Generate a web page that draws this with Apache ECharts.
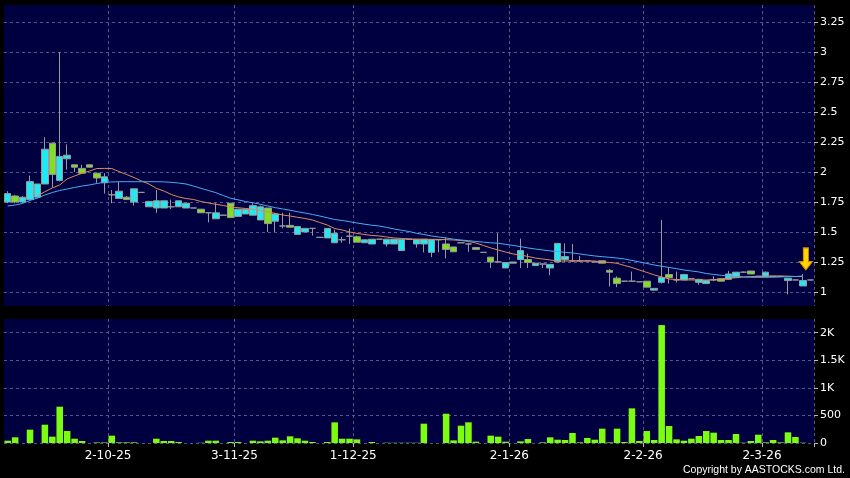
<!DOCTYPE html>
<html><head><meta charset="utf-8">
<script src="https://cdn.jsdelivr.net/npm/echarts@6/dist/echarts.min.js"></script>
<style>html,body{margin:0;padding:0;background:#000;}#c{width:850px;height:478px;}</style>
</head><body><div id="c"></div>
<script>
// OHLC values per trading day
const opens  = [1.82,1.75,1.79,1.92,1.90,2.19,1.98,2.13,2.14,2.04,1.99,2.04,1.95,1.96,1.81,1.84,1.77,1.86,1.83,1.755,
  1.76,1.76,1.71,1.76,1.74,1.70,1.66,1.66,1.66,1.64,1.62,1.69,1.69,1.72,1.71,1.57,1.65,1.55,1.54,1.545,
  1.53,1.53,1.455,1.53,1.49,1.435,1.465,1.415,1.435,1.44,1.44,1.44,1.44,1.44,1.44,1.44,1.44,1.435,1.435,1.355,
  1.335,1.41,1.40,1.355,1.33,1.25,1.25,1.245,1.25,1.345,1.245,1.24,1.233,1.23,1.405,1.295,1.26,1.26,1.26,1.25,
  1.24,1.165,1.07,1.09,1.09,1.085,1.04,1.03,1.12,1.12,1.10,1.145,1.11,1.105,1.095,1.10,1.09,1.15,1.165,1.165,
  1.15,1.13,1.165,1.13,1.13,1.115,1.10,1.095,1.10];
const closes = [1.75,1.80,1.75,1.77,1.79,1.90,2.24,1.93,2.11,2.06,2.03,2.06,1.99,1.91,1.81,1.78,1.79,1.75,1.83,1.71,
  1.70,1.70,1.71,1.71,1.70,1.70,1.69,1.66,1.61,1.64,1.74,1.63,1.65,1.64,1.60,1.70,1.59,1.55,1.555,1.48,
  1.50,1.53,1.455,1.45,1.41,1.435,1.465,1.46,1.41,1.40,1.44,1.40,1.40,1.345,1.44,1.40,1.40,1.33,1.435,1.40,
  1.375,1.41,1.40,1.37,1.33,1.29,1.25,1.20,1.24,1.27,1.27,1.22,1.233,1.20,1.25,1.27,1.26,1.26,1.26,1.25,
  1.26,1.18,1.115,1.09,1.09,1.085,1.09,1.015,1.08,1.145,1.10,1.10,1.11,1.08,1.07,1.10,1.11,1.105,1.12,1.165,
  1.175,1.13,1.13,1.13,1.13,1.095,1.10,1.05,1.10];
const lows   = [1.74,1.74,1.74,1.77,1.78,1.90,1.87,1.92,2.02,2.00,1.99,2.04,1.91,1.82,1.74,1.78,1.77,1.72,1.83,1.71,
  1.66,1.70,1.69,1.71,1.70,1.70,1.66,1.58,1.61,1.64,1.62,1.63,1.65,1.64,1.60,1.50,1.50,1.53,1.54,1.48,
  1.50,1.47,1.455,1.45,1.41,1.41,1.40,1.415,1.41,1.40,1.44,1.38,1.40,1.345,1.44,1.37,1.33,1.29,1.33,1.28,
  1.335,1.41,1.335,1.355,1.33,1.20,1.25,1.20,1.24,1.20,1.20,1.22,1.20,1.14,1.25,1.25,1.25,1.25,1.26,1.25,
  1.24,1.045,1.04,1.09,1.09,1.085,1.04,1.015,1.07,1.07,1.08,1.10,1.11,1.06,1.07,1.09,1.09,1.105,1.12,1.16,
  1.15,1.13,1.12,1.13,1.13,0.98,1.10,1.05,1.10];
const highs  = [1.84,1.81,1.80,1.97,1.90,2.29,2.24,3.00,2.23,2.06,2.06,2.06,1.99,1.99,1.85,1.92,1.80,1.86,1.83,1.76,
  1.85,1.76,1.77,1.76,1.74,1.70,1.69,1.66,1.74,1.64,1.74,1.69,1.69,1.74,1.72,1.70,1.66,1.66,1.66,1.55,
  1.53,1.53,1.455,1.53,1.52,1.46,1.53,1.47,1.435,1.44,1.44,1.44,1.44,1.44,1.44,1.44,1.44,1.44,1.435,1.455,
  1.375,1.41,1.41,1.37,1.33,1.29,1.49,1.25,1.25,1.445,1.32,1.24,1.233,1.23,1.405,1.405,1.40,1.30,1.26,1.25,
  1.26,1.19,1.13,1.09,1.17,1.085,1.09,1.03,1.60,1.20,1.17,1.15,1.11,1.11,1.10,1.13,1.11,1.175,1.165,1.17,
  1.175,1.13,1.17,1.13,1.13,1.115,1.10,1.15,1.10];
// Volume (thousands)
const volumes = [42,103,0,242,0,332,115,658,217,78,36,0,10,10,133,12,12,12,0,0,
  78,36,36,18,0,0,5,42,42,0,18,18,0,42,30,42,97,48,121,85,
  42,18,0,18,374,78,78,66,0,18,0,5,5,5,5,5,350,0,0,531,
  48,314,375,24,0,133,115,24,0,30,72,0,12,103,60,54,181,12,91,60,
  260,12,260,18,628,36,217,54,2138,308,66,42,78,127,217,187,54,54,163,6,
  36,151,12,54,12,193,109,6,0];
// Moving average lines
const maShort = [null,null,null,null,1.80,1.836,1.867,1.892,1.942,1.967,1.989,2.008,2.029,2.03,2.029,2.003,1.979,1.954,1.925,1.90,
  1.864,1.842,1.813,1.792,1.779,1.771,1.754,1.742,1.731,1.721,1.708,1.702,1.696,1.689,1.679,1.669,1.654,1.642,1.633,1.622,
  1.613,1.60,1.579,1.558,1.529,1.517,1.50,1.488,1.479,1.471,1.467,1.458,1.45,1.446,1.442,1.439,1.439,1.439,1.438,1.436,
  1.433,1.429,1.421,1.408,1.388,1.367,1.35,1.333,1.317,1.308,1.296,1.283,1.275,1.267,1.258,1.258,1.258,1.258,1.258,1.258,
  1.25,1.246,1.239,1.221,1.204,1.183,1.163,1.142,1.125,1.108,1.104,1.10,1.10,1.10,1.10,1.103,1.108,1.114,1.119,1.125,
  1.128,1.131,1.133,1.133,1.133,1.132,1.129,1.128,null];
const maLong = [1.717,1.725,1.738,1.763,1.783,1.808,1.829,1.846,1.858,1.871,1.883,1.892,1.904,1.914,1.917,1.919,1.919,1.919,1.919,1.919,
  1.919,1.918,1.914,1.908,1.90,1.883,1.864,1.846,1.828,1.804,1.781,1.768,1.754,1.744,1.731,1.717,1.703,1.692,1.681,1.669,
  1.658,1.646,1.633,1.618,1.604,1.596,1.586,1.575,1.565,1.556,1.55,1.538,1.525,1.514,1.504,1.489,1.479,1.467,1.458,1.45,
  1.44,1.433,1.428,1.421,1.415,1.41,1.406,1.397,1.388,1.378,1.367,1.358,1.35,1.342,1.336,1.33,1.325,1.317,1.308,1.30,
  1.294,1.289,1.283,1.275,1.263,1.25,1.238,1.225,1.214,1.204,1.194,1.183,1.175,1.167,1.154,1.146,1.139,1.133,1.129,1.125,
  1.122,1.122,1.122,1.123,1.125,1.127,1.129,1.133,null];
// Axis ticks
const tickIndex  = [14, 31, 47, 68, 86, 102];
const tickLabels = ['2-10-25','3-11-25','1-12-25','2-1-26','2-2-26','2-3-26'];
const priceTicks = [1,1.25,1.5,1.75,2,2.25,2.5,2.75,3,3.25];
const volumeTicks = [0,500,1000,1500,2000];

const N = 109;
const categories = Array.from({length: N}, (_, i) => 'd' + i);
const candleData = opens.map((o, i) => [o, closes[i], lows[i], highs[i]]);

const gridColor = '#55558a';
const dash = {show: true, lineStyle: {color: gridColor, type: [3, 3], width: 1}};
const isTick = (i) => tickIndex.indexOf(i) >= 0;
const font = 'DejaVu Sans';

const chart = echarts.init(document.getElementById('c'), null, {renderer: 'canvas'});
chart.setOption({
  backgroundColor: '#000',
  animation: false,
  grid: [
    {left: 4, right: 36, top: 5, height: 301, show: true, backgroundColor: '#000040', borderWidth: 0},
    {left: 4, right: 36, top: 319, height: 124, show: true, backgroundColor: '#000040', borderWidth: 0}
  ],
  xAxis: [
    {type: 'category', gridIndex: 0, data: categories, boundaryGap: true,
     axisLine: {show: false}, axisTick: {show: false}, axisLabel: {show: false},
     splitLine: {show: true, interval: isTick, lineStyle: {color: gridColor, type: [3, 3], width: 1}}},
    {type: 'category', gridIndex: 1, data: categories, boundaryGap: true,
     axisLine: {show: false},
     axisTick: {show: true, interval: isTick, length: 4, lineStyle: {color: '#bbbbbb'}},
     axisLabel: {show: true, interval: isTick, color: '#ffffff', fontSize: 12, fontFamily: font, margin: 7,
       padding: [0, 7.4, 0, 0],
       formatter: (v, i) => { const k = tickIndex.indexOf(i); return k >= 0 ? tickLabels[k] : ''; }},
     splitLine: {show: true, interval: isTick, lineStyle: {color: gridColor, type: [3, 3], width: 1}}}
  ],
  yAxis: [
    {type: 'value', gridIndex: 0, position: 'right', min: 0.883, max: 3.392,
     axisLine: {show: false},
     axisTick: {show: true, length: 4, customValues: priceTicks, lineStyle: {color: '#bbbbbb'}},
     axisLabel: {show: true, customValues: priceTicks, color: '#ffffff', fontSize: 11, fontFamily: font, margin: 6,
       formatter: (v) => String(v)},
     splitLine: dash},
    {type: 'value', gridIndex: 1, position: 'right', min: 0, max: 2248,
     axisLine: {show: false},
     axisTick: {show: true, length: 4, customValues: volumeTicks, lineStyle: {color: '#bbbbbb'}},
     axisLabel: {show: true, customValues: volumeTicks, color: '#ffffff', fontSize: 11, fontFamily: font, margin: 6,
       formatter: (v) => v >= 1000 ? (v / 1000) + 'K' : String(v)},
     splitLine: dash}
  ],
  series: [
    {type: 'candlestick', xAxisIndex: 0, yAxisIndex: 0, data: candleData, barWidth: 7,
     itemStyle: {color: '#7fe020', color0: '#22e8f2', borderColor: '#9a9a9a', borderColor0: '#9a9a9a',
       borderColorDoji: '#9a9a9a', borderWidth: 1},
     markPoint: {
       silent: true,
       data: [{coord: [categories[107], 1.275],
         symbol: 'path://M3,0 L7,0 L7,10 L10,10 L5,16 L0,10 L3,10 Z',
         symbolSize: [13, 22], symbolOffset: [3, 0],
         itemStyle: {color: '#ffd400', borderColor: '#d88a00', borderWidth: 1},
         label: {show: false}}]
     }},
    {type: 'line', xAxisIndex: 0, yAxisIndex: 0, data: maShort, symbol: 'none', silent: true,
     lineStyle: {color: '#e08a5a', width: 1}},
    {type: 'line', xAxisIndex: 0, yAxisIndex: 0, data: maLong, symbol: 'none', silent: true,
     lineStyle: {color: '#45aef2', width: 1}},
    {type: 'bar', xAxisIndex: 1, yAxisIndex: 1, data: volumes, barWidth: '88%',
     itemStyle: {color: '#7cfc10'}}
  ],
  graphic: [
    {type: 'text', right: 5, bottom: 2,
     style: {text: 'Copyright by AASTOCKS.com Ltd.', fill: '#ffffff', font: '10.5px "Liberation Sans"'}}
  ]
});
</script>
</body></html>
